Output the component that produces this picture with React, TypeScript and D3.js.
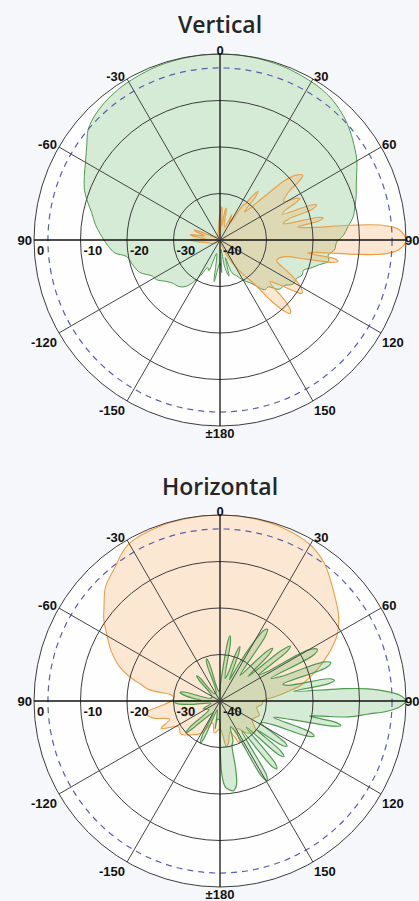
import * as React from 'react';
import * as d3 from 'd3';

const WIDTH = 419;
const HEIGHT = 901;
const R = 186;

// angle ticks (degrees, clockwise from top) and their labels
const angleTicks = [0, 30, 60, 90, 120, 150, 180, -150, -120, -90, -60, -30];
const angleLabels = ['0', '30', '60', '90', '120', '150', '±180', '-150', '-120', '90', '-60', '-30'];
// gain rings (dB)
const gainTicks = [0, -10, -20, -30, -40];
const gainLabels = ['0', '-10', '-20', '-30', '-40'];
const gainRings = [-30, -20, -10, 0];
const dashedRing = -3;

// Vertical plane: [angle, dB]
const vGreen: [number, number][] = [
  [-180, -35], [-172, -31], [-166, -37], [-160, -33], [-156, -33.5], [-151, -31], [-146, -28.5], [-142, -27.2],
  [-137, -26.5], [-133, -26.3], [-128, -25.5], [-122, -23.9], [-118, -23.5], [-112, -21.4], [-106, -20.5],
  [-100, -19.6], [-97, -17.2], [-92, -15.6], [-87, -14.2], [-83, -13], [-78, -11.8], [-74, -10.4], [-70, -9],
  [-65, -7.8], [-60, -6.6], [-55, -5], [-50, -3], [-45, -2], [-40, -1.4], [-35, -1], [-30, -0.7], [-20, -0.3],
  [-10, -0.1], [0, 0], [10, -0.1], [20, -0.3], [30, -0.7], [35, -1], [39, -1.4], [45, -2.4], [50, -3.5], [56, -5],
  [60, -6], [64, -7.3], [68, -8.4], [72, -9.2], [76, -10.1], [80, -10.9], [84, -12.3], [88, -13.5], [91, -14.9],
  [95, -15.3], [98, -16.5], [101, -16.2], [104, -18], [107, -19.5], [110, -20.9], [113, -20.8], [117, -21.6],
  [121, -21.6], [125, -23], [130, -23.5], [134, -25.5], [138, -25.6], [142, -27.5], [145, -28.8], [150, -30],
  [155, -31.5], [160, -32.5], [163, -36], [166, -32], [170, -34], [174, -38], [177, -33],
];

const vOrange: [number, number][] = [
  [-180, -40], [-150, -40], [-120, -38.5], [-100, -37], [-95, -35.5], [-91.5, -34], [-90, -33.5], [-88.5, -34.5],
  [-86, -37], [-81.5, -34], [-80, -33.5], [-78.5, -34.5], [-75, -36.5], [-70.5, -34.5], [-69, -34], [-67.5, -35],
  [-64, -38], [-50, -39], [-30, -39], [-10, -38], [-3, -36], [1.5, -33.5], [3, -32.8], [4.5, -34], [7, -37],
  [9.5, -33.8], [11, -33], [12.5, -34], [15, -36.5], [20, -37], [25, -34], [30, -36], [33.5, -31], [35, -30.5],
  [36.5, -28], [38, -26.7], [39.5, -28], [41, -32], [45, -28], [47.5, -21], [49.5, -18.5], [52, -17.4],
  [53.5, -19], [55, -22], [59, -24], [61, -21.5], [62.5, -20.6], [64, -22], [65.5, -24.5], [67.5, -25.5],
  [69, -19], [70, -17.9], [71.5, -19], [73, -24.5], [75.5, -26], [77, -18.5], [78, -17.3], [79.2, -18.5],
  [80.5, -23], [82, -21], [83.5, -12], [84.8, -5], [86.5, -1.6], [90, 0], [93.2, -1.6], [95, -5], [96.2, -12],
  [97.5, -19.5], [98.5, -21], [99.3, -15], [100.3, -14.2], [101.3, -15.5], [102.5, -21], [105, -26], [110, -27],
  [115, -24], [118, -21.5], [121, -19.5], [123, -19], [124.5, -20.5], [127, -24], [130, -26], [133, -21],
  [135, -18.5], [136.5, -18.2], [138, -19.5], [140, -23], [142, -28], [146, -31], [150, -33.5], [155, -36],
  [162, -38.5], [170, -40],
];

// Horizontal plane: [angle, dB]
const hOrange: [number, number][] = [
  [-180, -34], [-170, -33], [-162, -35], [-150, -32], [-140, -30.5], [-130, -29], [-122, -29.5], [-115, -26],
  [-110, -28.5], [-104, -25], [-99, -23.9], [-95, -27], [-90, -29.5], [-86, -30], [-83, -29.5], [-81, -24.7],
  [-78, -22.5], [-76, -20.7], [-71, -17.1], [-65, -14.1], [-59, -11.5], [-55, -9.5], [-51, -7.9], [-45, -5.2],
  [-38, -3.4], [-34, -2], [-30, -0.9], [-20, -0.3], [-10, -0.1], [0, 0], [10, -0.1], [20, -0.4], [30, -1.2],
  [37, -2.8], [43, -5], [48, -6.7], [54, -8.5], [60, -10.8], [64, -13], [68, -15.5], [72, -18], [76, -20.5],
  [79, -22.3], [83, -26], [86, -28.5], [89, -30.6], [95, -31], [100, -32], [110, -31], [120, -32], [130, -30],
  [140, -31], [148, -33], [155, -30], [162, -33], [168, -31], [172, -30], [176, -33],
];

const hGreen: [number, number][] = [
  [-180, -31], [-178, -36], [-172, -36], [-170, -34], [-168, -37], [-163, -38], [-157, -31.5], [-155, -30],
  [-153, -31.5], [-150, -37], [-142, -36], [-135, -31.5], [-133, -30], [-131, -31.5], [-127, -37], [-115, -36],
  [-105, -38], [-97, -34], [-94, -31], [-92, -30.3], [-90, -31], [-88, -36], [-84, -34], [-80, -31.8],
  [-78, -31.2], [-76, -32], [-73, -38], [-60, -38], [-50, -37], [-45, -33.5], [-43, -32.6], [-41, -33.5],
  [-38, -38], [-25, -38], [-19.5, -31.5], [-17.7, -30.5], [-16, -31.5], [-13, -37], [-5, -38], [0, -37],
  [5, -33], [7.5, -27], [8.7, -25.8], [10, -27], [12.5, -35], [16, -34], [18.5, -29], [20, -27.5], [21.5, -29],
  [24, -35], [27, -31], [30, -25], [32, -22], [33.5, -21.5], [35, -23], [38, -33], [41, -30], [43.5, -25],
  [45, -24], [46.5, -25.5], [49, -32], [50.5, -23], [52, -20.8], [53.5, -22], [56, -30], [58, -28], [60, -18],
  [62, -16.3], [63.8, -17.5], [66, -28], [68, -26], [69.5, -16], [71, -14.8], [72.5, -16], [75, -26], [77, -25],
  [78.5, -16], [79.8, -15], [81, -16.5], [82.5, -24], [84.2, -14], [85.3, -8], [86.8, -3.9], [88.2, -1.3],
  [90, 0], [91.8, -1.3], [93.5, -4], [95, -8], [97, -12], [98.5, -18], [99.5, -20.5], [100.5, -14.5],
  [101.5, -13.5], [102.5, -15], [104.5, -24], [107, -28], [109, -19.5], [110.5, -18.4], [112, -20], [114.5, -28],
  [118, -30], [122.5, -23.5], [124, -22.6], [125.5, -23.5], [128, -30], [129.5, -23], [131, -21.8],
  [132.5, -23], [135, -32], [138.5, -22], [140, -21], [141.5, -22], [144, -32], [148, -21], [149.4, -20.2],
  [151, -21.5], [154, -33], [158, -34], [162, -31], [165, -30], [167, -25], [169, -21.5], [171.5, -20.5],
  [174, -20.8], [176.5, -21.5], [178.5, -24],
];

const GREEN = { fill: '#55b055', fillOpacity: 0.24, stroke: '#4f9b4f' };
const ORANGE = { fill: '#f5a04a', fillOpacity: 0.24, stroke: '#eaa04a' };

type Layer = { data: [number, number][]; color: typeof GREEN; width: number };

const r = d3.scaleLinear().domain([-40, 0]).range([0, R]).clamp(true);
const a = d3.scaleLinear().domain([-180, 180]).range([-Math.PI, Math.PI]);

const radial = d3.lineRadial<[number, number]>()
  .angle(d => a(d[0]))
  .radius(d => r(d[1]))
  .curve(d3.curveCatmullRomClosed.alpha(0.5));

const PolarPlot = ({ title, titleY, cx, cy, layers }: { title: string; titleY: number; cx: number; cy: number; layers: Layer[] }) => {
  const end = (t: number) => {
    const th = a(t);
    return [cx + R * Math.sin(th), cy - R * Math.cos(th)];
  };
  const labelPos = (t: number) => {
    const [x, y] = end(t);
    if (t === 0) return { x: cx, y: cy - R + 1, anchor: 'middle' };
    if (t === 180) return { x: cx, y: cy + R + 12, anchor: 'middle' };
    if (t === 90) return { x: x - 1, y: y + 5, anchor: 'start' };
    const dy = Math.abs(t) === 90 ? 5 : Math.abs(t) < 90 ? 2 : 14;
    return t > 0 ? { x: x + 1, y: y + dy, anchor: 'start' } : { x: x - 2, y: y + dy, anchor: 'end' };
  };
  return (
    <g>
      <text x={cx} y={titleY} textAnchor="middle" fontFamily="'Open Sans', sans-serif" fontWeight={600}
        fontSize={23} fill="#262626">{title}</text>
      <circle cx={cx} cy={cy} r={R} fill="#fefefe" />
      <g transform={`translate(${cx},${cy})`}>
        {layers.map((l, i) => (
          <path key={i} d={radial(l.data) || ''} fill={l.color.fill} fillOpacity={l.color.fillOpacity}
            stroke={l.color.stroke} strokeWidth={l.width} strokeLinejoin="round" />
        ))}
      </g>
      {gainRings.map(g => (
        <circle key={g} cx={cx} cy={cy} r={r(g)} fill="none" stroke="#3c3c3c" strokeWidth={1} />
      ))}
      <circle cx={cx} cy={cy} r={r(dashedRing)} fill="none" stroke="#5a5fae" strokeWidth={1.2} strokeDasharray="6,5" />
      {angleTicks.map(t => {
        const [x, y] = end(t);
        const main = t % 90 === 0;
        return <line key={t} x1={cx} y1={cy} x2={x} y2={y} stroke={main ? '#111' : '#444'} strokeWidth={main ? 1.3 : 1} />;
      })}
      {angleTicks.map((t, i) => {
        const p = labelPos(t);
        return (
          <text key={t} x={p.x} y={p.y} textAnchor={p.anchor} fontFamily="'Liberation Sans', Arial, sans-serif"
            fontWeight="bold" fontSize={13} fill="#111">{angleLabels[i]}</text>
        );
      })}
      {gainTicks.map((g, i) => (
        <text key={g} x={cx - r(g) + 3} y={cy + 15} fontFamily="'Liberation Sans', Arial, sans-serif"
          fontWeight="bold" fontSize={13} fill="#111">{gainLabels[i]}</text>
      ))}
    </g>
  );
};

export default function App() {
  return (
    <svg width={WIDTH} height={HEIGHT} style={{ position: 'absolute', left: 0, top: 0 }}>
      <rect width={WIDTH} height={HEIGHT} fill="#f5f7fb" />
      <PolarPlot title="Vertical" titleY={33} cx={220} cy={240}
        layers={[{ data: vGreen, color: GREEN, width: 1 }, { data: vOrange, color: ORANGE, width: 1.2 }]} />
      <PolarPlot title="Horizontal" titleY={495} cx={220} cy={701}
        layers={[{ data: hOrange, color: ORANGE, width: 1.1 }, { data: hGreen, color: GREEN, width: 1.2 }]} />
    </svg>
  );
}
